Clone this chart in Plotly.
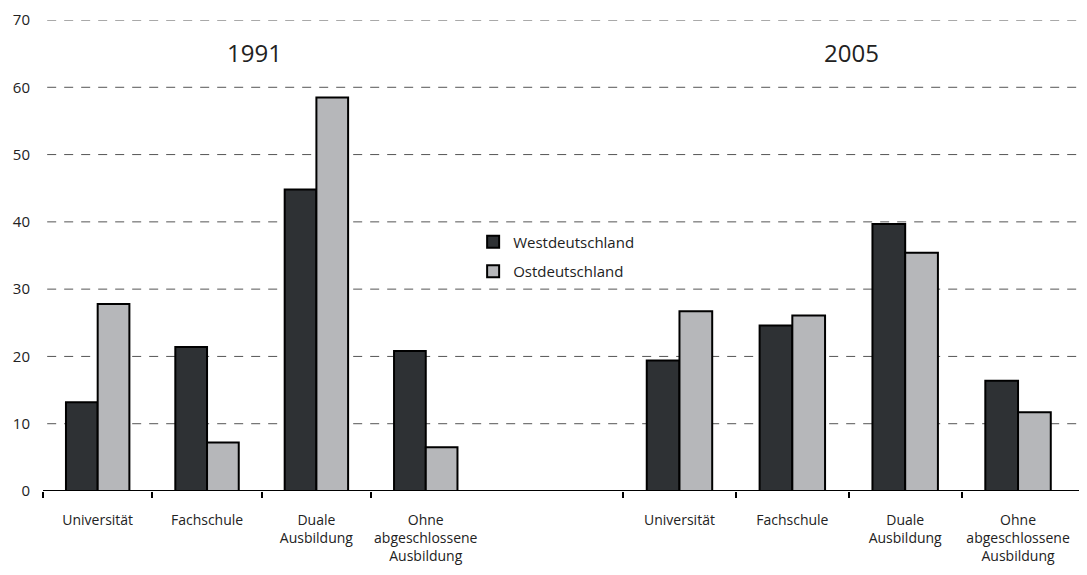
import plotly.graph_objects as go

categories = ["Universität", "Fachschule", "Duale<br>Ausbildung", "Ohne<br>abgeschlossene<br>Ausbildung"]
west_1991 = [13.2, 21.4, 44.8, 20.8]
east_1991 = [27.8, 7.2, 58.5, 6.5]
west_2005 = [19.4, 24.6, 39.7, 16.4]
east_2005 = [26.7, 26.1, 35.4, 11.7]
series_names = ["Westdeutschland", "Ostdeutschland"]
year_labels = ["1991", "2005"]
grid_values = [10, 20, 30, 40, 50, 60, 70]

WEST = "#2e3134"
EAST = "#b6b7ba"
FONT = "Open Sans"

fig = go.Figure()
line = dict(color="#000000", width=2)
fig.add_trace(go.Bar(x=categories, y=west_1991, name=series_names[0], marker=dict(color=WEST, line=line),
                     xaxis="x", yaxis="y", legendgroup="w", showlegend=True))
fig.add_trace(go.Bar(x=categories, y=east_1991, name=series_names[1], marker=dict(color=EAST, line=line),
                     xaxis="x", yaxis="y", legendgroup="e", showlegend=True))
fig.add_trace(go.Bar(x=categories, y=west_2005, name=series_names[0], marker=dict(color=WEST, line=line),
                     xaxis="x2", yaxis="y2", legendgroup="w", showlegend=False))
fig.add_trace(go.Bar(x=categories, y=east_2005, name=series_names[1], marker=dict(color=EAST, line=line),
                     xaxis="x2", yaxis="y2", legendgroup="e", showlegend=False))

xcommon = dict(type="category", showline=False, ticks="outside", tickson="boundaries", ticklen=6,
               tickwidth=2, tickcolor="#000", showgrid=False, zeroline=False, automargin=False,
               tickangle=0, tickfont=dict(family=FONT, size=14, color="#222"), ticklabelstandoff=19)

shapes = []
for g in grid_values:
    shapes.append(dict(type="line", xref="paper", yref="y", x0=0.004, x1=1, y0=g, y1=g,
                       line=dict(color="#555", width=1, dash="9px,8px"), layer="below"))
shapes.append(dict(type="line", xref="paper", yref="y", x0=0, x1=1, y0=0, y1=0,
                   line=dict(color="#000", width=2), layer="above"))

# the page body has an 8px default margin, so the figure is sized to end at the window edge
fig.update_layout(
    width=1079, height=567,
    margin=dict(l=35, r=0, t=12, b=84, autoexpand=False),
    paper_bgcolor="white", plot_bgcolor="rgba(0,0,0,0)",
    barmode="group", bargap=0.42, bargroupgap=0,
    font=dict(family=FONT, size=14, color="#222"),
    xaxis=dict(domain=[0.0, 0.419], anchor="y", **xcommon),
    xaxis2=dict(domain=[0.5556, 0.988], anchor="y2", **xcommon),
    yaxis=dict(range=[0, 70], tickvals=[0, 10, 20, 30, 40, 50, 60, 70], showgrid=False, zeroline=False,
               showline=False, ticks="", ticklabelstandoff=12, automargin=False,
               tickfont=dict(family=FONT, size=15, color="#222")),
    yaxis2=dict(range=[0, 70], matches="y", anchor="x2", showticklabels=False, showgrid=False,
                zeroline=False, showline=False, ticks="", automargin=False),
    legend=dict(x=0.412, y=0.5635, xanchor="left", yanchor="top", bgcolor="rgba(0,0,0,0)",
                font=dict(family=FONT, size=15, color="#222"), traceorder="grouped",
                tracegroupgap=7),
    shapes=shapes,
    annotations=[
        dict(text=year_labels[0], xref="paper", yref="paper", x=0.203, y=0.93, showarrow=False,
             xanchor="center", yanchor="middle", font=dict(family=FONT, size=24, color="#222")),
        dict(text=year_labels[1], xref="paper", yref="paper", x=0.774, y=0.93, showarrow=False,
             xanchor="center", yanchor="middle", font=dict(family=FONT, size=24, color="#222")),
    ],
)

fig.write_html("out.html")
